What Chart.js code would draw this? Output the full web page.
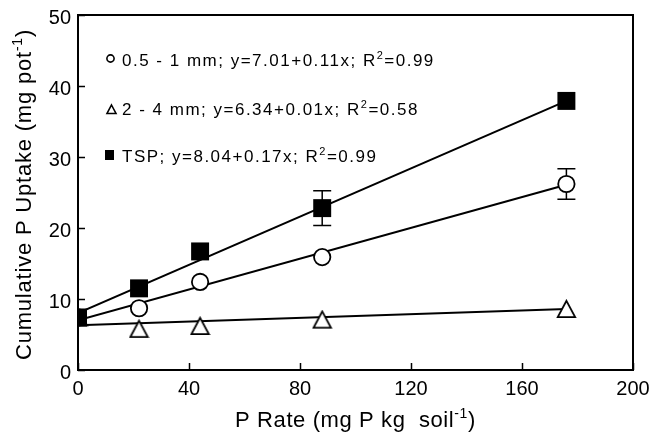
<!DOCTYPE html>
<html>
<head>
<meta charset="utf-8">
<script src="https://cdn.jsdelivr.net/npm/chart.js@4"></script>
<style>
  body { margin: 0; background: #fff; }
  canvas { display: block; }
</style>
</head>
<body>
<canvas id="myChart" width="652" height="434"></canvas>
<script>
// datos
const rates = [0, 22, 44, 88, 176];
const fine = [7.4, 8.7, 12.4, 15.9, 26.2];      // 0.5 - 1 mm
const coarse = [7.4, 5.8, 6.2, 7.1, 8.6];       // 2 - 4 mm
const tsp = [7.4, 11.5, 16.7, 22.8, 37.9];      // TSP
const fineErr = [0, 0, 0, 0, 2.15];
const tspErr = [0, 0, 0, 2.45, 0];

// rectas de ajuste (extremos)
const fitX = [0, 176];
const fineFit = [7.0, 26.1];
const coarseFit = [6.3, 8.6];
const tspFit = [8.0, 37.9];

const xTicks = [0, 40, 80, 120, 160, 200];
const yTicks = [0, 10, 20, 30, 40, 50];

const legendLabels = [
  [["0.5 - 1 mm; y=7.01+0.11x; R", false], ["2", true], ["=0.99", false]],
  [["2 - 4 mm; y=6.34+0.01x; R", false], ["2", true], ["=0.58", false]],
  [["TSP; y=8.04+0.17x; R", false], ["2", true], ["=0.99", false]]
];
const xTitle = [["P Rate (mg P kg  soil", false], ["-1", true], [")", false]];
const yTitle = [["Cumulative P Uptake (mg pot", false], ["-1", true], [")", false]];

const FAMILY = "'Liberation Sans', Arial, sans-serif";

function pts(xs, ys) {
  return xs.map((x, i) => ({ x: x, y: ys[i] }));
}

function triangleImage(w, h, lw) {
  const c = document.createElement('canvas');
  c.width = Math.ceil(w + lw * 2);
  c.height = Math.ceil(h + lw * 2);
  const g = c.getContext('2d');
  g.beginPath();
  g.moveTo(c.width / 2, lw);
  g.lineTo(c.width - lw, c.height - lw);
  g.lineTo(lw, c.height - lw);
  g.closePath();
  g.fillStyle = '#fff';
  g.fill();
  g.lineWidth = lw;
  g.strokeStyle = '#000';
  g.stroke();
  return c;
}

function textWidth(ctx, parts, size, spacing) {
  let w = 0;
  for (const [t, sup] of parts) {
    ctx.font = (sup ? Math.round(size * 0.62) : size) + 'px ' + FAMILY;
    ctx.letterSpacing = spacing + 'px';
    w += ctx.measureText(t).width;
  }
  return w;
}

function drawRich(ctx, parts, x, y, size, spacing) {
  for (const [t, sup] of parts) {
    ctx.font = (sup ? Math.round(size * 0.62) : size) + 'px ' + FAMILY;
    ctx.letterSpacing = spacing + 'px';
    ctx.fillText(t, x, sup ? y - size * 0.4 : y);
    x += ctx.measureText(t).width;
  }
}

// marco, ticks hacia dentro, barras de error, leyenda y titulos
const extras = {
  id: 'extras',
  beforeDatasetsDraw(chart) {
    const ctx = chart.ctx;
    const xs = chart.scales.x, ys = chart.scales.y;
    ctx.save();
    ctx.strokeStyle = '#000';
    ctx.lineWidth = 1.5;
    [[fine, fineErr], [tsp, tspErr]].forEach(([vals, errs]) => {
      rates.forEach((r, i) => {
        if (!errs[i]) return;
        const px = xs.getPixelForValue(r);
        const top = ys.getPixelForValue(vals[i] + errs[i]);
        const bot = ys.getPixelForValue(vals[i] - errs[i]);
        ctx.beginPath();
        ctx.moveTo(px, top); ctx.lineTo(px, bot);
        ctx.moveTo(px - 9, top); ctx.lineTo(px + 9, top);
        ctx.moveTo(px - 9, bot); ctx.lineTo(px + 9, bot);
        ctx.stroke();
      });
    });
    ctx.restore();
  },
  afterDraw(chart) {
    const ctx = chart.ctx;
    const a = chart.chartArea;
    const xs = chart.scales.x, ys = chart.scales.y;
    ctx.save();
    ctx.strokeStyle = '#000';
    ctx.lineWidth = 2;
    ctx.strokeRect(a.left, a.top, a.right - a.left, a.bottom - a.top);
    ctx.lineWidth = 1.5;
    ctx.beginPath();
    xTicks.forEach(v => {
      const px = Math.round(xs.getPixelForValue(v)) + 0.5;
      ctx.moveTo(px, a.bottom); ctx.lineTo(px, a.bottom - 7);
    });
    yTicks.forEach(v => {
      const py = Math.round(ys.getPixelForValue(v)) + 0.5;
      ctx.moveTo(a.left, py); ctx.lineTo(a.left + 7, py);
    });
    ctx.stroke();

    // leyenda
    ctx.fillStyle = '#000';
    ctx.lineWidth = 1.6;
    ctx.beginPath();
    ctx.arc(110.5, 58.5, 3.6, 0, Math.PI * 2);
    ctx.stroke();
    ctx.beginPath();
    ctx.moveTo(111.5, 105); ctx.lineTo(116, 113.5); ctx.lineTo(107, 113.5); ctx.closePath();
    ctx.stroke();
    ctx.fillRect(105, 150, 9, 10);

    ctx.textBaseline = 'alphabetic';
    ctx.textAlign = 'left';
    const baselines = [66, 115, 162];
    legendLabels.forEach((parts, i) => drawRich(ctx, parts, 122, baselines[i], 17, 1.5));

    // titulos de ejes
    const wx = textWidth(ctx, xTitle, 22, 0.6);
    drawRich(ctx, xTitle, (a.left + a.right) / 2 - wx / 2, 427, 22, 0.6);
    const wy = textWidth(ctx, yTitle, 22, 0.8);
    ctx.translate(31, (a.top + a.bottom) / 2 + 2);
    ctx.rotate(-Math.PI / 2);
    drawRich(ctx, yTitle, -wy / 2, 0, 22, 0.8);
    ctx.restore();
  }
};

const triangle = triangleImage(17, 16, 1.8);

let data = {
  datasets: [
    { label: 'TSP', data: pts(rates, tsp), showLine: false, pointStyle: 'rect',
      pointRadius: 12.7, backgroundColor: '#000', borderColor: '#000', borderWidth: 0, order: 0 },
    { label: '0.5 - 1 mm', data: pts(rates, fine), showLine: false, pointStyle: 'circle',
      pointRadius: 8.2, backgroundColor: '#fff', borderColor: '#000', borderWidth: 1.8, order: 1 },
    { label: '2 - 4 mm', data: pts(rates, coarse), showLine: false, pointStyle: triangle,
      pointRadius: 9, order: 2 },
    { label: 'fit TSP', data: pts(fitX, tspFit), showLine: true, pointRadius: 0,
      borderColor: '#000', borderWidth: 2, order: 3 },
    { label: 'fit fine', data: pts(fitX, fineFit), showLine: true, pointRadius: 0,
      borderColor: '#000', borderWidth: 2, order: 3 },
    { label: 'fit coarse', data: pts(fitX, coarseFit), showLine: true, pointRadius: 0,
      borderColor: '#000', borderWidth: 2, order: 3 }
  ]
};

let config = {
  type: 'scatter',
  data: data,
  options: {
    responsive: false,
    animation: false,
    layout: { padding: { top: 15, right: 19, left: 0, bottom: 0 } },
    plugins: { legend: { display: false }, tooltip: { enabled: false } },
    scales: {
      x: {
        type: 'linear', min: 0, max: 200,
        afterBuildTicks: s => { s.ticks = xTicks.map(v => ({ value: v })); },
        ticks: { font: { size: 20, family: FAMILY }, color: '#000', padding: 7, maxRotation: 0, autoSkip: false },
        grid: { display: false, drawTicks: false },
        border: { display: false },
        afterFit: s => { s.height = 64; s.paddingLeft = 0; s.paddingRight = 0; }
      },
      y: {
        type: 'linear', min: 0, max: 50,
        afterBuildTicks: s => { s.ticks = yTicks.map(v => ({ value: v })); },
        ticks: { font: { size: 20, family: FAMILY }, color: '#000', padding: 7, labelOffset: 3, autoSkip: false },
        grid: { display: false, drawTicks: false },
        border: { display: false },
        afterFit: s => { s.width = 78; s.paddingTop = 0; s.paddingBottom = 0; }
      }
    }
  },
  plugins: [extras]
};

var myChart = new Chart(document.getElementById('myChart'), config);
</script>
</body>
</html>
